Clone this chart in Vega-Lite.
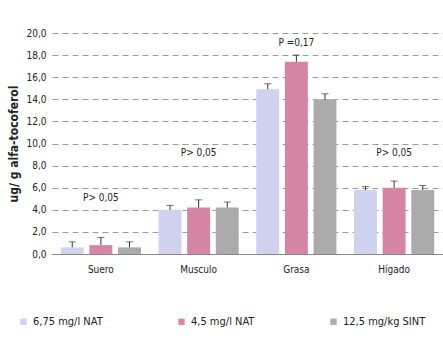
{
  "$schema": "https://vega.github.io/schema/vega-lite/v6.json",
  "width": 391,
  "height": 221,
  "autosize": {"type": "none"},
  "padding": {"left": 52, "top": 33, "right": 0, "bottom": 86},
  "background": "white",
  "config": {
    "font": "DejaVu Sans Condensed, Liberation Sans, sans-serif",
    "view": {"stroke": null},
    "axis": {"labelColor": "#222", "titleColor": "#222"},
    "axisY": {"titleFontWeight": "bold", "titleFontSize": 12, "titlePadding": 5, "labelOverlap": false,
              "labelFontSize": 10, "domain": false, "ticks": false, "labelPadding": 6,
              "gridDash": [6, 4], "gridColor": "#999"},
    "legend": {"labelColor": "#222"}
  },
  "datasets": {
    "bars": [
      {"tejido": "Suero", "grupo": "6,75 mg/l NAT", "valor": 0.6, "sup": 1.1},
      {"tejido": "Suero", "grupo": "4,5 mg/l NAT", "valor": 0.8, "sup": 1.5},
      {"tejido": "Suero", "grupo": "12,5 mg/kg SINT", "valor": 0.6, "sup": 1.1},
      {"tejido": "Musculo", "grupo": "6,75 mg/l NAT", "valor": 4.0, "sup": 4.4},
      {"tejido": "Musculo", "grupo": "4,5 mg/l NAT", "valor": 4.2, "sup": 4.9},
      {"tejido": "Musculo", "grupo": "12,5 mg/kg SINT", "valor": 4.2, "sup": 4.7},
      {"tejido": "Grasa", "grupo": "6,75 mg/l NAT", "valor": 14.9, "sup": 15.4},
      {"tejido": "Grasa", "grupo": "4,5 mg/l NAT", "valor": 17.4, "sup": 18.0},
      {"tejido": "Grasa", "grupo": "12,5 mg/kg SINT", "valor": 14.0, "sup": 14.5},
      {"tejido": "Hígado", "grupo": "6,75 mg/l NAT", "valor": 5.8, "sup": 6.1},
      {"tejido": "Hígado", "grupo": "4,5 mg/l NAT", "valor": 6.0, "sup": 6.6},
      {"tejido": "Hígado", "grupo": "12,5 mg/kg SINT", "valor": 5.8, "sup": 6.2}
    ],
    "notas": [
      {"tejido": "Suero", "y": 5.1, "texto": "P> 0,05"},
      {"tejido": "Musculo", "y": 9.1, "texto": "P> 0,05"},
      {"tejido": "Grasa", "y": 19.1, "texto": "P =0,17"},
      {"tejido": "Hígado", "y": 9.1, "texto": "P> 0,05"}
    ]
  },
  "layer": [
    {
      "data": {"name": "bars"},
      "mark": {"type": "bar"},
      "encoding": {
        "x": {"field": "tejido", "type": "nominal", "sort": ["Suero", "Musculo", "Grasa", "Hígado"],
              "scale": {"paddingInner": 0.18, "paddingOuter": 0.09},
              "axis": {"title": null, "labelAngle": 0, "ticks": false, "domainColor": "#888", "labelPadding": 10, "labelFontSize": 10}},
        "xOffset": {"field": "grupo", "type": "nominal", "sort": ["6,75 mg/l NAT", "4,5 mg/l NAT", "12,5 mg/kg SINT"], "scale": {"paddingInner": 0.2}},
        "y": {"field": "valor", "type": "quantitative", "scale": {"domain": [0, 20]},
              "axis": {"title": "ug/ g alfa-tocoferol", "values": [0, 2, 4, 6, 8, 10, 12, 14, 16, 18, 20],
                       "labelExpr": "replace(format(datum.value, '.1f'), '.', ',')"}},
        "color": {"field": "grupo", "type": "nominal", "sort": ["6,75 mg/l NAT", "4,5 mg/l NAT", "12,5 mg/kg SINT"],
                  "scale": {"range": ["#d0d1ef", "#d584a4", "#ababab"]},
                  "legend": {"title": null, "orient": "none", "legendX": -34, "legendY": 283, "direction": "horizontal", "columnPadding": 73,
                             "symbolType": "square", "symbolSize": 40, "labelFontSize": 11, "symbolStrokeWidth": 0, "padding": 0}}
      }
    },
    {
      "data": {"name": "bars"},
      "mark": {"type": "rule", "color": "#333", "strokeWidth": 1},
      "encoding": {
        "x": {"field": "tejido", "type": "nominal", "sort": ["Suero", "Musculo", "Grasa", "Hígado"]},
        "xOffset": {"field": "grupo", "type": "nominal", "sort": ["6,75 mg/l NAT", "4,5 mg/l NAT", "12,5 mg/kg SINT"]},
        "y": {"field": "valor", "type": "quantitative",
              "axis": {"title": "ug/ g alfa-tocoferol", "values": [0, 2, 4, 6, 8, 10, 12, 14, 16, 18, 20],
                       "labelExpr": "replace(format(datum.value, '.1f'), '.', ',')"}},
        "y2": {"field": "sup"}
      }
    },
    {
      "data": {"name": "bars"},
      "mark": {"type": "tick", "color": "#333", "size": 7, "thickness": 1},
      "encoding": {
        "x": {"field": "tejido", "type": "nominal", "sort": ["Suero", "Musculo", "Grasa", "Hígado"]},
        "xOffset": {"field": "grupo", "type": "nominal", "sort": ["6,75 mg/l NAT", "4,5 mg/l NAT", "12,5 mg/kg SINT"]},
        "y": {"field": "sup", "type": "quantitative",
              "axis": {"title": "ug/ g alfa-tocoferol", "values": [0, 2, 4, 6, 8, 10, 12, 14, 16, 18, 20],
                       "labelExpr": "replace(format(datum.value, '.1f'), '.', ',')"}}
      }
    },
    {
      "data": {"name": "notas"},
      "mark": {"type": "text", "fontSize": 10, "color": "#222"},
      "encoding": {
        "x": {"field": "tejido", "type": "nominal", "sort": ["Suero", "Musculo", "Grasa", "Hígado"]},
        "y": {"field": "y", "type": "quantitative",
              "axis": {"title": "ug/ g alfa-tocoferol", "values": [0, 2, 4, 6, 8, 10, 12, 14, 16, 18, 20],
                       "labelExpr": "replace(format(datum.value, '.1f'), '.', ',')"}},
        "text": {"field": "texto"}
      }
    }
  ]
}
